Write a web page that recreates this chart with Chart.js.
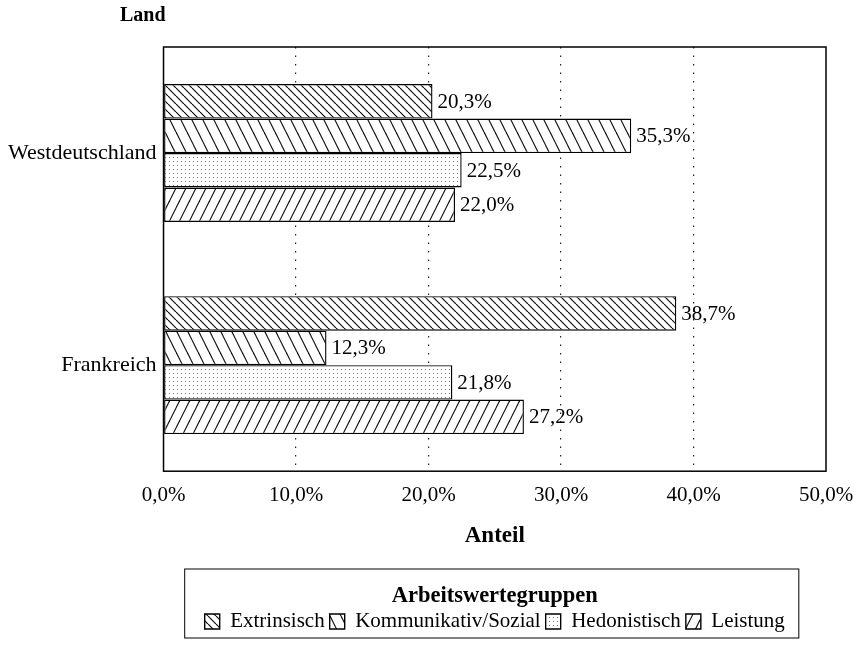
<!DOCTYPE html>
<html>
<head>
<meta charset="utf-8">
<script src="https://cdn.jsdelivr.net/npm/chart.js@4/dist/chart.umd.min.js"></script>
<style>
  html, body { margin: 0; padding: 0; background: #fff; }
  #wrap { width: 854px; height: 660px; }
</style>
</head>
<body>
<div id="wrap"><canvas id="chart"></canvas></div>
<script>
const countries = ["Westdeutschland", "Frankreich"];
const groups = ["Extrinsisch", "Kommunikativ/Sozial", "Hedonistisch", "Leistung"];
const extrinsisch = [20.3, 38.7];
const kommunikativ = [35.3, 12.3];
const hedonistisch = [22.5, 21.8];
const leistung = [22.0, 27.2];
const xTicks = [0, 10, 20, 30, 40, 50];

const serif = "'Liberation Serif', 'DejaVu Serif', serif";

// hatch tiles
function hatch(w, h, dir) {
  const c = document.createElement("canvas");
  c.width = w; c.height = h;
  const g = c.getContext("2d");
  g.fillStyle = "#fff";
  g.fillRect(0, 0, w, h);
  g.strokeStyle = "#111";
  g.lineWidth = 1.2;
  for (const o of [-w, 0, w]) {
    g.beginPath();
    if (dir === "\\") { g.moveTo(o, 0); g.lineTo(o + w, h); }
    else { g.moveTo(o, h); g.lineTo(o + w, 0); }
    g.stroke();
  }
  return g.createPattern(c, "repeat");
}
function dots() {
  const c = document.createElement("canvas");
  c.width = 4; c.height = 4;
  const g = c.getContext("2d");
  g.fillStyle = "#fff";
  g.fillRect(0, 0, 4, 4);
  g.fillStyle = "#7a7a7a";
  g.fillRect(1, 1, 1, 1);
  return g.createPattern(c, "repeat");
}

const fills = [hatch(8, 8, "\\"), hatch(11, 22, "\\"), dots(), hatch(10, 20, "/")];
const series = [extrinsisch, kommunikativ, hedonistisch, leistung];

const fmt = v => v.toFixed(1).replace(".", ",") + "%";

const valueLabels = {
  id: "valueLabels",
  afterDatasetsDraw(chart) {
    const ctx = chart.ctx;
    ctx.save();
    ctx.font = "21px " + serif;
    ctx.fillStyle = "#000";
    ctx.textBaseline = "middle";
    ctx.textAlign = "left";
    chart.data.datasets.forEach((ds, i) => {
      chart.getDatasetMeta(i).data.forEach((el, j) => {
        ctx.fillText(fmt(ds.data[j]), el.x + 5, el.y + 1);
      });
    });
    ctx.restore();
  }
};

const frames = {
  id: "frames",
  afterDraw(chart) {
    const ctx = chart.ctx;
    const a = chart.chartArea;
    ctx.save();
    ctx.strokeStyle = "#000";
    ctx.lineWidth = 1.5;
    ctx.strokeRect(a.left, a.top, a.right - a.left, a.bottom - a.top);
    // legend frame
    const lg = chart.legend;
    const hb = lg.legendHitBoxes;
    const last = hb[hb.length - 1];
    const l = hb[0].left - 20, r = last.left + last.width + 14;
    ctx.lineWidth = 1;
    ctx.strokeRect(l, lg.top - 10, r - l, lg.bottom - lg.top + 6);
    // "Land"
    ctx.font = "bold 20px " + serif;
    ctx.fillStyle = "#000";
    ctx.textBaseline = "middle";
    ctx.fillText("Land", 120, 16);
    ctx.restore();
  }
};

new Chart(document.getElementById("chart"), {
  type: "bar",
  data: {
    labels: countries,
    datasets: groups.map((g, i) => ({
      label: g,
      data: series[i],
      backgroundColor: fills[i],
      borderColor: "#000",
      borderWidth: 1.4,
      borderSkipped: false,
      categoryPercentage: 0.65,
      barPercentage: 1.0
    }))
  },
  options: {
    indexAxis: "y",
    responsive: true,
    maintainAspectRatio: false,
    animation: false,
    layout: { padding: { top: 47, right: 0, left: 1, bottom: 18 } },
    scales: {
      x: {
        min: 0,
        max: 50,
        afterBuildTicks: s => { s.ticks = xTicks.map(v => ({ value: v })); },
        afterFit: s => { s.paddingRight = 28; },
        border: { display: false, dash: [1.5, 7] },
        grid: {
          drawTicks: false,
          color: c => (c.tick && (c.tick.value === 0 || c.tick.value === 50)) ? "rgba(0,0,0,0)" : "#222",
          lineWidth: 1.2
        },
        ticks: {
          padding: 12,
          color: "#000",
          font: { family: serif, size: 21 },
          callback: v => fmt(v)
        },
        title: {
          display: true,
          text: "Anteil",
          color: "#000",
          font: { family: serif, size: 23, weight: "bold" },
          padding: { top: 2, bottom: 29 }
        }
      },
      y: {
        border: { display: false },
        grid: { display: false, drawTicks: false },
        ticks: {
          padding: 7,
          color: "#000",
          font: { family: serif, size: 22 }
        }
      }
    },
    plugins: {
      legend: {
        position: "bottom",
        fullSize: false,
        labels: {
          color: "#000",
          font: { family: serif, size: 21 },
          boxWidth: 15,
          boxHeight: 15,
          padding: 5
        },
        title: {
          display: true,
          text: "Arbeitswertegruppen",
          color: "#000",
          font: { family: serif, size: 22.5, weight: "bold" },
          padding: { top: 6, bottom: -6 }
        }
      },
      tooltip: { enabled: false }
    }
  },
  plugins: [valueLabels, frames]
});
</script>
</body>
</html>
